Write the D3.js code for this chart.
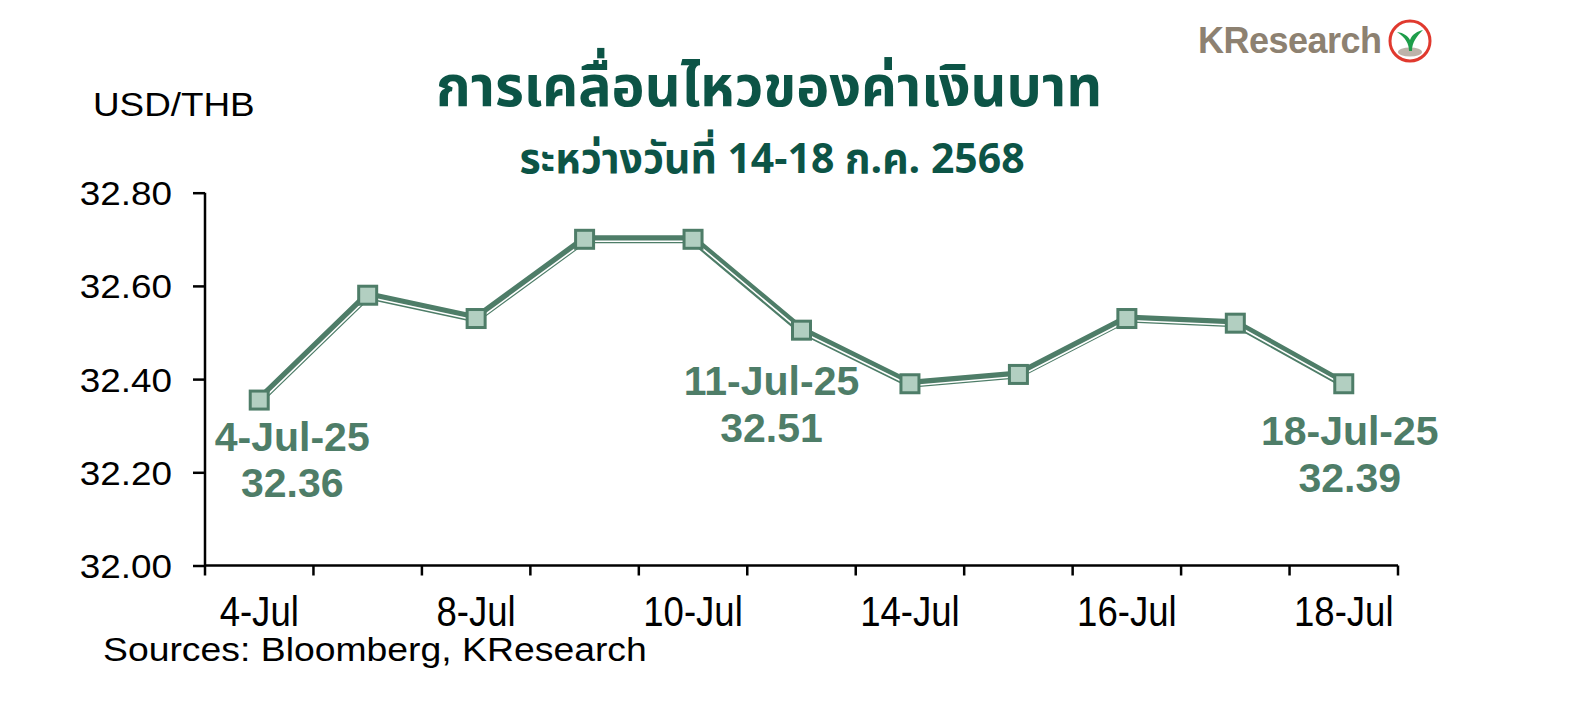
<!DOCTYPE html>
<html><head><meta charset="utf-8">
<script src="https://cdn.jsdelivr.net/npm/d3@7"></script>
<style>
html,body{margin:0;padding:0;background:#fff;}
svg{display:block;}
</style></head>
<body>
<svg id="c" width="1583" height="727"></svg>
<script>
const dates = ["4-Jul","7-Jul","8-Jul","9-Jul","10-Jul","11-Jul","14-Jul","15-Jul","16-Jul","17-Jul","18-Jul"];
const rates = [32.355,32.58,32.53,32.70,32.70,32.505,32.39,32.41,32.53,32.52,32.39];
const yTicks = [32.00,32.20,32.40,32.60,32.80];
const xLabelShown = ["4-Jul","8-Jul","10-Jul","14-Jul","16-Jul","18-Jul"];
const callouts = [
  {date:"4-Jul", line1:"4-Jul-25", line2:"32.36"},
  {date:"11-Jul", line1:"11-Jul-25", line2:"32.51"},
  {date:"18-Jul", line1:"18-Jul-25", line2:"32.39"}
];
const titleText = "การเคลื่อนไหวของค่าเงินบาท";
const subtitleText = "ระหว่างวันที่ 14-18 ก.ค. 2568";
const unitText = "USD/THB";
const sourceText = "Sources: Bloomberg, KResearch";

const GREEN = "#4e7d68", FILL = "#b2cfc1", TITLE = "#0c5446";
const svg = d3.select("#c");
const x = d3.scaleBand().domain(dates).range([205, 1398]);
const y = d3.scaleLinear().domain([32.0, 32.8]).range([565.5, 192.7]);
const FONT = "'Liberation Sans', Arial, sans-serif";
const THAI = "'Noto Sans Thai','Noto Sans Thai UI','Loma','Garuda','Noto Sans',sans-serif";

function stretch(sel, s){
  sel.each(function(){
    const t = d3.select(this);
    const ax = +t.attr("x") || 0;
    t.attr("transform", `translate(${ax},0) scale(${s},1) translate(${-ax},0)`);
  });
}

// y axis
const gy = svg.append("g").attr("transform","translate(205,0)")
  .call(d3.axisLeft(y).tickValues(yTicks).tickSize(12).tickPadding(21).tickFormat(d3.format(".2f")));
gy.select(".domain").attr("stroke","#000").attr("stroke-width",2.5).attr("d","M0,"+y(32.8)+"V"+y(32.0));
gy.selectAll(".tick line").attr("stroke","#000").attr("stroke-width",2.5);
gy.selectAll(".tick text").attr("font-family",FONT).attr("font-size",33.5).attr("fill","#000").attr("dy","0.36em");
stretch(gy.selectAll(".tick text"), 1.1);

// x axis
const gx = svg.append("g").attr("transform","translate(0,"+y(32.0)+")")
  .call(d3.axisBottom(x).tickSize(0).tickPadding(30).tickFormat(d => xLabelShown.includes(d) ? d : ""));
gx.select(".domain").attr("stroke","#000").attr("stroke-width",2.5).attr("d","M"+x.range()[0]+",0H"+x.range()[1]);
gx.selectAll(".tick text").attr("font-family",FONT).attr("font-size",43).attr("fill","#000");
stretch(gx.selectAll(".tick text"), 0.85);
const bounds = dates.map(d => x(d)).concat([x.range()[1]]);
gx.selectAll("line.bt").data(bounds).enter().append("line").attr("class","bt")
  .attr("x1",d=>d).attr("x2",d=>d).attr("y1",0).attr("y2",10)
  .attr("stroke","#000").attr("stroke-width",2.5);

// line
const line = d3.line().x((d,i)=>x(dates[i])+x.bandwidth()/2).y(d=>y(d));
svg.append("path").datum(rates).attr("d",line).attr("fill","none")
  .attr("stroke",GREEN).attr("stroke-width",8).attr("stroke-linejoin","round");
svg.append("path").datum(rates).attr("d",line).attr("fill","none")
  .attr("stroke","#fff").attr("stroke-width",1.6).attr("stroke-linejoin","round")
  .attr("transform","translate(0.8,2)");

// markers
svg.selectAll("rect.m").data(rates).enter().append("rect").attr("class","m")
  .attr("x",(d,i)=>x(dates[i])+x.bandwidth()/2-9).attr("y",d=>y(d)-9)
  .attr("width",18).attr("height",18)
  .attr("fill",FILL).attr("stroke",GREEN).attr("stroke-width",3);

// callouts
const calloutPos = {"4-Jul":[451,497],"11-Jul":[395,442],"18-Jul":[445,492]};
const calloutDx = {"4-Jul":33,"11-Jul":-30,"18-Jul":6};
callouts.forEach(c => {
  const cx = x(c.date)+x.bandwidth()/2 + calloutDx[c.date];
  const [b1,b2] = calloutPos[c.date];
  svg.append("text").attr("x",cx).attr("y",b1).attr("text-anchor","middle")
    .attr("font-family",FONT).attr("font-weight","bold").attr("font-size",41).attr("fill",GREEN).text(c.line1);
  svg.append("text").attr("x",cx).attr("y",b2).attr("text-anchor","middle")
    .attr("font-family",FONT).attr("font-weight","bold").attr("font-size",41).attr("fill",GREEN).text(c.line2);
});

// titles
const tt = svg.append("text").attr("x",769).attr("y",106).attr("text-anchor","middle")
  .attr("font-family",THAI).attr("font-weight","bold").attr("font-size",56).attr("fill",TITLE).text(titleText);
stretch(tt, 0.995);
const stt = svg.append("text").attr("x",772).attr("y",173).attr("text-anchor","middle")
  .attr("font-family",THAI).attr("font-weight","bold").attr("font-size",42).attr("fill",TITLE).text(subtitleText);
stretch(stt, 0.975);

// unit & source
const ut = svg.append("text").attr("x",93).attr("y",115.7).attr("font-family",FONT).attr("font-size",33.5).attr("fill","#000").text(unitText);
stretch(ut, 1.1);
const st = svg.append("text").attr("x",103).attr("y",661).attr("font-family",FONT).attr("font-size",33.5).attr("fill","#000").text(sourceText);
stretch(st, 1.115);

// logo
svg.append("text").attr("x",1198).attr("y",53).attr("font-family",FONT).attr("font-weight","bold")
  .attr("font-size",36).attr("fill","#8d8171").attr("letter-spacing",-0.5).text("KResearch");
const lg = svg.append("g").attr("transform","translate(1410,41)");
lg.append("circle").attr("r",20).attr("fill","#fff").attr("stroke","#e0392e").attr("stroke-width",3);
lg.append("ellipse").attr("cx",0).attr("cy",11).attr("rx",12).attr("ry",4.5).attr("fill","#bdb3aa");
lg.append("path").attr("d","M-1,10 C-1,3 -4,-3 -13,-9 C-6,-8 -2,-5 0,-1 C2,-7 8,-10 13,-11 C7,-5 2,1 2,10 Z").attr("fill","#1e9d4a");
</script>
</body></html>
